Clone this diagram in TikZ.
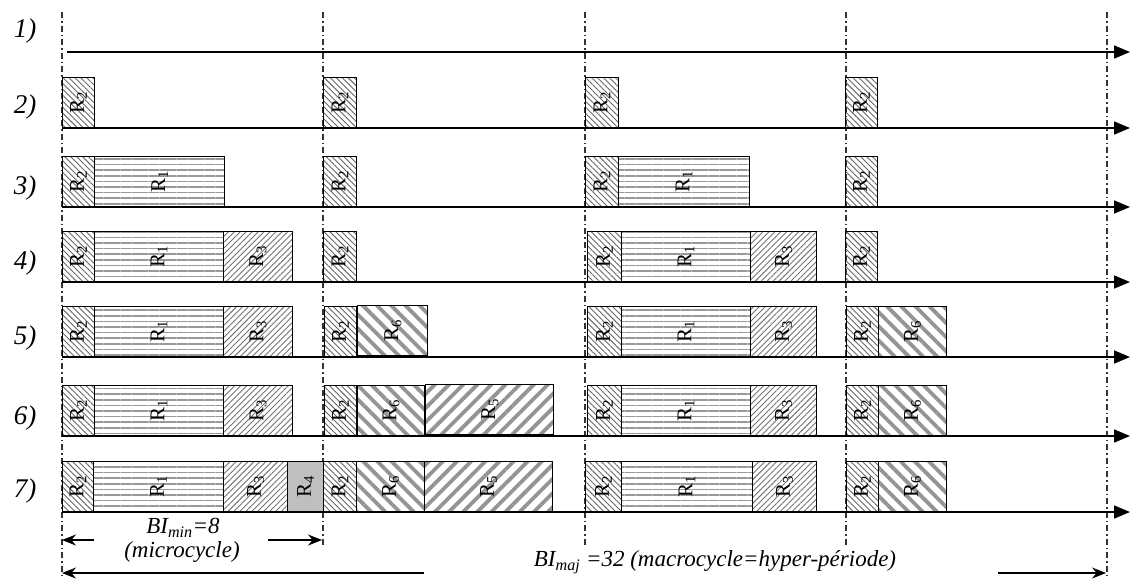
\documentclass[tikz,border=0pt]{standalone}
\usepackage{fontspec}
\setmainfont{Liberation Serif}
\usetikzlibrary{patterns.meta,arrows.meta}
\begin{document}
\begin{tikzpicture}[x=1pt,y=-1pt,
  axis/.style={line width=1.6pt,-{Triangle[length=16pt,width=13pt]}},
  guide/.style={line width=1.1pt,dash pattern=on 6pt off 3pt on 1.5pt off 3pt,black!80},
  blk/.style={draw=black,line width=1.1pt,inner sep=0pt,minimum height=50pt,anchor=south west},
  pR2/.style={blk,pattern={Lines[angle=-45,distance=4.2pt,line width=0.9pt]},pattern color=black!60},
  pR1/.style={blk,pattern={Lines[angle=0,distance=5.6pt,line width=1.5pt]},pattern color=black!40},
  pR3/.style={blk,pattern={Lines[angle=45,distance=4.2pt,line width=0.9pt]},pattern color=black!55},
  pR6/.style={blk,pattern={Lines[angle=-45,distance=10pt,line width=3.8pt]},pattern color=black!42},
  pR5/.style={blk,pattern={Lines[angle=45,distance=10pt,line width=3.8pt]},pattern color=black!42},
  pR4/.style={blk,fill=black!25},
  lbl/.style={rotate=90,inner sep=0pt,font=\fontsize{21}{21}\selectfont},
  rowlbl/.style={font=\fontsize{27}{27}\selectfont\itshape,inner sep=0pt},
  ann/.style={font=\fontsize{23}{23}\selectfont\itshape,inner sep=0pt},
  dimarrow/.style={line width=1.5pt,-{Stealth[length=14pt,width=11pt]}}
]
\useasboundingbox (0,0) rectangle (1131,579);
% guide lines
\coordinate (g1t) at (62,12);   \coordinate (g1b) at (62,579);
\coordinate (g2t) at (323,12);  \coordinate (g2b) at (323,545);
\coordinate (g3t) at (585,12);  \coordinate (g3b) at (585,545);
\coordinate (g4t) at (846,12);  \coordinate (g4b) at (846,545);
\coordinate (g5t) at (1107,12); \coordinate (g5b) at (1107,575);
\foreach \i in {1,...,5} {\draw[guide] (g\i t) -- (g\i b);}
% axes
\foreach \n/\xs/\y in {1/67/52,2/62/128,3/62/207,4/62/282,5/62/357,6/62/436,7/62/512} {
  \coordinate (a\n s) at (\xs,\y);
  \coordinate (a\n e) at (1130,\y);
  \draw[axis] (a\n s) -- (a\n e);
}
% row labels
\foreach \n/\y in {1/31,2/107,3/188,4/263,5/338,6/418,7/491} {
  \node[rowlbl] (l\n) at (25,\y) {\n)};
}
% blocks: name/style/x1/x2/row baseline/label
\newcommand\mkblk[6]{%
  \node[#2,minimum width=#4pt-#3pt] (#1) at (#3,#5) {};
  \node[lbl] at (#1.center) {R\textsubscript{#6}};}
% row 2
\mkblk{b2a}{pR2}{62}{94}{128}{2}
\mkblk{b2b}{pR2}{323}{356}{128}{2}
\mkblk{b2c}{pR2}{585}{618}{128}{2}
\mkblk{b2d}{pR2}{845}{877}{128}{2}
% row 3
\mkblk{b3a}{pR2}{62}{94}{207}{2}
\mkblk{b3b}{pR1}{94}{224}{207}{1}
\mkblk{b3c}{pR2}{323}{356}{207}{2}
\mkblk{b3d}{pR2}{585}{618}{207}{2}
\mkblk{b3e}{pR1}{618}{749}{207}{1}
\mkblk{b3f}{pR2}{845}{877}{207}{2}
% row 4
\mkblk{b4a}{pR2}{62}{94}{282}{2}
\mkblk{b4b}{pR1}{94}{223}{282}{1}
\mkblk{b4c}{pR3}{223}{292}{282}{3}
\mkblk{b4d}{pR2}{323}{356}{282}{2}
\mkblk{b4e}{pR2}{587}{621}{282}{2}
\mkblk{b4f}{pR1}{621}{750}{282}{1}
\mkblk{b4g}{pR3}{750}{816}{282}{3}
\mkblk{b4h}{pR2}{845}{877}{282}{2}
% row 5
\mkblk{b5a}{pR2}{62}{94}{357}{2}
\mkblk{b5b}{pR1}{94}{223}{357}{1}
\mkblk{b5c}{pR3}{223}{292}{357}{3}
\mkblk{b5d}{pR2}{324}{356}{357}{2}
\mkblk{b5e}{pR6}{356}{426}{357}{6}
\mkblk{b5f}{pR2}{587}{621}{357}{2}
\mkblk{b5g}{pR1}{621}{750}{357}{1}
\mkblk{b5h}{pR3}{750}{816}{357}{3}
\mkblk{b5i}{pR2}{846}{878}{357}{2}
\mkblk{b5j}{pR6}{878}{946}{357}{6}
% row 6
\mkblk{b6a}{pR2}{62}{94}{436}{2}
\mkblk{b6b}{pR1}{94}{223}{436}{1}
\mkblk{b6c}{pR3}{223}{292}{436}{3}
\mkblk{b6d}{pR2}{324}{356}{436}{2}
\mkblk{b6e}{pR6}{357}{424}{436}{6}
\mkblk{b6f}{pR5}{424}{552}{436}{5}
\mkblk{b6g}{pR2}{587}{621}{436}{2}
\mkblk{b6h}{pR1}{621}{750}{436}{1}
\mkblk{b6i}{pR3}{750}{816}{436}{3}
\mkblk{b6j}{pR2}{846}{878}{436}{2}
\mkblk{b6k}{pR6}{878}{946}{436}{6}
% row 7
\mkblk{b7a}{pR2}{62}{93}{512}{2}
\mkblk{b7b}{pR1}{93}{223}{512}{1}
\mkblk{b7c}{pR3}{223}{287}{512}{3}
\mkblk{b7d}{pR4}{287}{323}{512}{4}
\mkblk{b7e}{pR2}{323}{356}{512}{2}
\mkblk{b7f}{pR6}{356}{424}{512}{6}
\mkblk{b7g}{pR5}{424}{552}{512}{5}
\mkblk{b7h}{pR2}{585}{621}{512}{2}
\mkblk{b7i}{pR1}{621}{752}{512}{1}
\mkblk{b7j}{pR3}{752}{816}{512}{3}
\mkblk{b7k}{pR2}{846}{878}{512}{2}
\mkblk{b7l}{pR6}{878}{946}{512}{6}
% annotations
\node[ann] (bimin) at (183,528) {BI\textsubscript{min}=8};
\node[ann] (micro) at (182,552) {(microcycle)};
\node[ann] (bimaj) at (715,562) {BI\textsubscript{maj} =32 (macrocycle=hyper-période)};
\coordinate (m1) at (94,540);  \coordinate (m1t) at (62,540);
\coordinate (m2) at (268,540); \coordinate (m2t) at (322,540);
\coordinate (M1) at (424,573); \coordinate (M1t) at (62,573);
\coordinate (M2) at (998,573); \coordinate (M2t) at (1106,573);
\draw[dimarrow] (m1) -- (m1t);
\draw[dimarrow] (m2) -- (m2t);
\draw[dimarrow] (M1) -- (M1t);
\draw[dimarrow] (M2) -- (M2t);
\end{tikzpicture}
\end{document}
